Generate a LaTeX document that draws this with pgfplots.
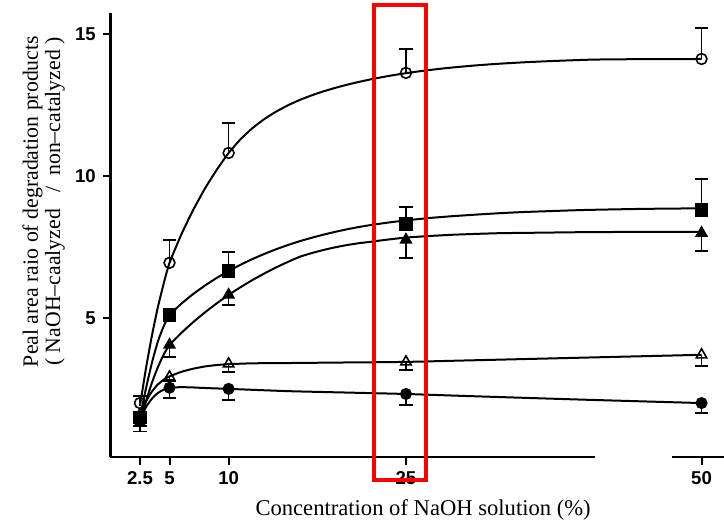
\documentclass[border=0pt]{standalone}
\usepackage{fontspec}
\setmainfont{Liberation Serif}
\setsansfont{Liberation Sans}
\usepackage{pgfplots}
\pgfplotsset{compat=1.18}

\pgfplotsset{
  curve/.style={black, line width=1pt, smooth, tension=0.3, no marks},
  pts/.style={black, only marks, line width=0.8pt,
    /pgfplots/error bars/y explicit,
    /pgfplots/error bars/y dir=#1,
    /pgfplots/error bars/error bar style={line width=0.8pt, black},
    /pgfplots/error bars/error mark options={rotate=90, mark size=3.4pt, line width=0.8pt, black}},
}

\begin{document}
\begin{tikzpicture}
\begin{axis}[
  scale only axis, width=306.8pt, height=222pt,
  xmin=0, xmax=51.9, ymin=0.1, ymax=15.74,
  axis x line*=bottom, axis y line*=left,
  axis line style={line width=1.2pt, black},
  xtick={2.5,5,10,25,50}, xticklabels={2.5,5,10,25,50},
  ytick={5,10,15},
  tick align=outside, major tick length=3.75pt,
  tick style={line width=1pt, black},
  ticklabel style={font=\sffamily\bfseries\fontsize{9.3}{10}\selectfont},
  /pgf/number format/assume math mode=true,
  xlabel={Concentration of NaOH solution (\%)},
  xlabel style={at={(axis cs:26.45,-1.76)}, anchor=center,
    font=\fontsize{11.3}{12}\selectfont},
  ylabel={Peal area raio of degradation products\\( NaOH--caalyzed \ \ /\ \ non--catalyzed )},
  ylabel style={at={(axis cs:-3.25,9.1)}, anchor=south, align=center,
    font=\fontsize{10.9}{11.2}\selectfont},
  clip=false,
]
\coordinate (sw) at (rel axis cs:0,0);
% break in the printed x axis line
\draw[white, line width=2.5pt] (axis cs:41.0,0.1) -- (axis cs:47.5,0.1);

% fitted curves
\addplot[curve] coordinates {(2.5,1.9)(3,3.2)(3.5,4.35)(4,5.35)(4.5,6.2)(5,6.94)(6,7.94)(7,8.8)(8,9.56)(9,10.22)(10,10.81)(11,11.29)(12,11.679)(13,11.998)(14,12.263)(15,12.485)(16,12.674)(17,12.836)(18,12.977)(19,13.101)(20,13.212)(21,13.311)(22,13.401)(23,13.482)(24,13.555)(25,13.62)(26,13.679)(27,13.732)(28,13.78)(29,13.823)(30,13.862)(31,13.897)(32,13.928)(33,13.956)(35,14.004)(37,14.042)(39,14.074)(41,14.1)(45,14.115)(50,14.12)};
\addplot[curve] coordinates {(2.5,1.5)(3,2.5)(3.5,3.4)(4,4.15)(4.5,4.7)(5,5.1)(6,5.5)(7,5.84)(8,6.14)(9,6.41)(10,6.65)(11,6.87)(12,7.07)(13,7.25)(14,7.415)(15,7.565)(16,7.7)(17,7.82)(18,7.93)(19,8.03)(20,8.12)(21,8.2)(22,8.27)(23,8.33)(24,8.385)(25,8.435)(27,8.52)(29,8.585)(31,8.64)(33,8.69)(35,8.73)(40,8.8)(45,8.84)(50,8.86)};
\addplot[curve] coordinates {(2.5,1.3)(3,2.05)(3.5,2.7)(4,3.25)(4.5,3.7)(5,4.05)(6,4.47)(7,4.85)(8,5.195)(9,5.515)(10,5.81)(11,6.08)(12,6.33)(13,6.56)(14,6.775)(15,6.97)(16,7.15)(17,7.28)(18,7.39)(19,7.485)(20,7.565)(21,7.63)(22,7.68)(23,7.735)(24,7.785)(25,7.83)(27,7.885)(29,7.93)(31,7.96)(33,7.985)(36,8.0)(40,8.02)(45,8.03)(50,8.03)};
\addplot[curve] coordinates {(2.5,1.6)(3,2.05)(3.5,2.4)(4,2.65)(4.5,2.82)(5,2.94)(6,3.1)(7,3.21)(8,3.29)(9,3.34)(10,3.37)(12,3.4)(15,3.41)(20,3.43)(25,3.45)(30,3.5)(40,3.6)(50,3.7)};
\addplot[curve] coordinates {(2.5,1.4)(3,1.85)(3.5,2.15)(4,2.35)(4.5,2.47)(5,2.54)(6,2.56)(7,2.55)(8,2.53)(10,2.5)(15,2.42)(20,2.37)(25,2.32)(30,2.25)(40,2.12)(50,2.0)};

% measured points
\addplot[pts=plus, mark=o, mark size=2.7pt, mark options={fill=white}] coordinates {
  (2.5,2.0) += (0,0.25) (5,6.94) += (0,0.81) (10,10.81) += (0,1.06) (25,13.63) += (0,0.84) (50,14.12) += (0,1.09)};
\addplot[pts=plus, mark=square*, mark size=2.9pt] coordinates {
  (2.5,1.5) += (0,0) (5,5.1) += (0,0) (10,6.65) += (0,0.67) (25,8.31) += (0,0.6) (50,8.8) += (0,1.09)};
\addplot[pts=minus, mark=triangle*, mark size=3pt] coordinates {
  (2.5,1.3) -= (0,0.3) (5,4.05) -= (0,0.42) (10,5.81) -= (0,0.35) (25,7.75) -= (0,0.64) (50,7.99) -= (0,0.63)};
\addplot[pts=minus, mark=triangle, mark size=3pt, mark options={fill=white}] coordinates {
  (2.5,1.6) -= (0,0) (5,2.92) -= (0,0.15) (10,3.38) -= (0,0.28) (25,3.45) -= (0,0.28) (50,3.7) -= (0,0.39)};
\addplot[pts=minus, mark=*, mark size=2.6pt] coordinates {
  (2.5,1.4) -= (0,0.2) (5,2.54) -= (0,0.36) (10,2.5) -= (0,0.39) (25,2.32) -= (0,0.38) (50,2.0) -= (0,0.35)};

% highlight
\draw[red, line width=2pt] (axis cs:22.32,-0.70) rectangle (axis cs:26.67,16.03);
\end{axis}
\pgfresetboundingbox
\path[use as bounding box] (sw) ++(-55.2pt,-32pt) rectangle ++(362pt,260.5pt);
\end{tikzpicture}
\end{document}
